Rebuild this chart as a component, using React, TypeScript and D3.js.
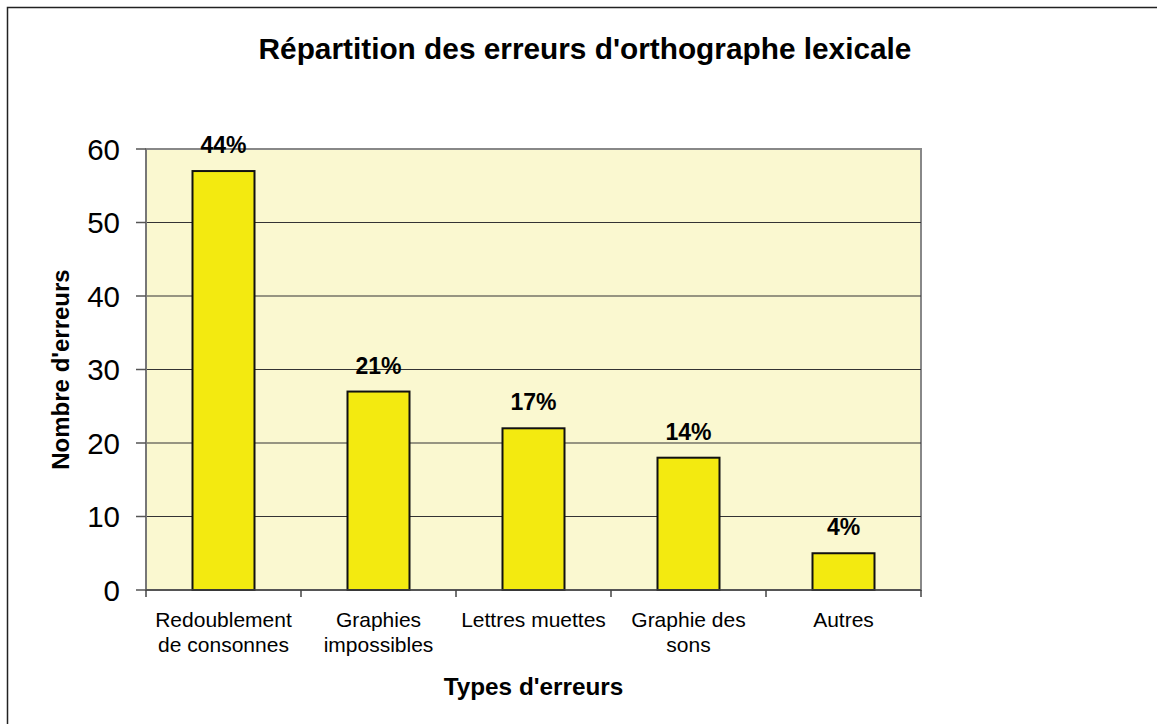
import React from "react";
import * as d3 from "d3";

const title = "Répartition des erreurs d'orthographe lexicale";
const categories = [
  ["Redoublement", "de consonnes"],
  ["Graphies", "impossibles"],
  ["Lettres muettes"],
  ["Graphie des", "sons"],
  ["Autres"],
];
const values = [57, 27, 22, 18, 5];
const percentLabels = ["44%", "21%", "17%", "14%", "4%"];
const yTicks = [0, 10, 20, 30, 40, 50, 60];
const xAxisTitle = "Types d'erreurs";
const yAxisTitle = "Nombre d'erreurs";

const W = 1157;
const H = 724;
const plot = { left: 146, right: 921, top: 149, bottom: 590 };
const FONT = "'Liberation Sans', Arial, Helvetica, sans-serif";

export default function App() {
  const keys = categories.map((_, i) => String(i));
  const x = d3
    .scaleBand<string>()
    .domain(keys)
    .range([plot.left, plot.right])
    .paddingInner(0.6)
    .paddingOuter(0.3);
  const y = d3.scaleLinear().domain([0, 60]).range([plot.bottom, plot.top]);
  const step = (plot.right - plot.left) / categories.length;
  const boundaries = d3.range(categories.length + 1).map((i) => plot.left + i * step);

  return (
    <svg
      width={W}
      height={H}
      style={{ position: "absolute", left: 0, top: 0, background: "#fff" }}
      fontFamily={FONT}
    >
      {/* outer frame */}
      <rect x={7.5} y={7.5} width={W + 20} height={H + 20} fill="none" stroke="#222" strokeWidth={1.5} />

      {/* title */}
      <text x={585} y={59} textAnchor="middle" fontSize={29.8} fontWeight="bold" fill="#000">
        {title}
      </text>

      {/* plot area */}
      <rect
        x={plot.left}
        y={plot.top}
        width={plot.right - plot.left}
        height={plot.bottom - plot.top}
        fill="#FAF8D0"
        stroke="#888"
        strokeWidth={2}
      />

      {/* gridlines */}
      {yTicks
        .filter((t) => t !== 0 && t !== 60)
        .map((t) => (
          <line key={t} x1={plot.left} x2={plot.right} y1={y(t)} y2={y(t)} stroke="#333" strokeWidth={1.2} />
        ))}

      {/* y axis */}
      <line x1={plot.left} x2={plot.left} y1={plot.top} y2={plot.bottom} stroke="#777" strokeWidth={2} />
      {yTicks.map((t) => (
        <g key={t}>
          <line x1={plot.left - 10} x2={plot.left} y1={y(t)} y2={y(t)} stroke="#555" strokeWidth={1.5} />
          <text x={120} y={y(t) + 10.5} textAnchor="end" fontSize={29.5} fill="#000">
            {t}
          </text>
        </g>
      ))}

      {/* bars */}
      {values.map((v, i) => (
        <rect
          key={i}
          x={x(String(i))}
          y={y(v)}
          width={x.bandwidth()}
          height={y(0) - y(v)}
          fill="#F3EA10"
          stroke="#111"
          strokeWidth={2}
        />
      ))}

      {/* x axis */}
      <line x1={plot.left} x2={plot.right} y1={plot.bottom} y2={plot.bottom} stroke="#444" strokeWidth={1.5} />
      {boundaries.map((bx, i) => (
        <line key={i} x1={bx} x2={bx} y1={plot.bottom} y2={plot.bottom + 7} stroke="#444" strokeWidth={1.5} />
      ))}

      {/* data labels */}
      {values.map((v, i) => (
        <text
          key={i}
          x={x(String(i))! + x.bandwidth() / 2}
          y={y(v) - 18}
          textAnchor="middle"
          fontSize={23}
          fontWeight="bold"
          fill="#000"
        >
          {percentLabels[i]}
        </text>
      ))}

      {/* category labels */}
      {categories.map((lines, i) => (
        <text
          key={i}
          x={x(String(i))! + x.bandwidth() / 2}
          y={627}
          textAnchor="middle"
          fontSize={21}
          fill="#000"
        >
          {lines.map((l, j) => (
            <tspan key={j} x={x(String(i))! + x.bandwidth() / 2} dy={j === 0 ? 0 : 24.5}>
              {l}
            </tspan>
          ))}
        </text>
      ))}

      {/* axis titles */}
      <text x={(plot.left + plot.right) / 2} y={695} textAnchor="middle" fontSize={24.3} fontWeight="bold" fill="#000">
        {xAxisTitle}
      </text>
      <text
        transform={`translate(69, ${(plot.top + plot.bottom) / 2}) rotate(-90)`}
        textAnchor="middle"
        fontSize={24}
        fontWeight="bold"
        fill="#000"
      >
        {yAxisTitle}
      </text>
    </svg>
  );
}
